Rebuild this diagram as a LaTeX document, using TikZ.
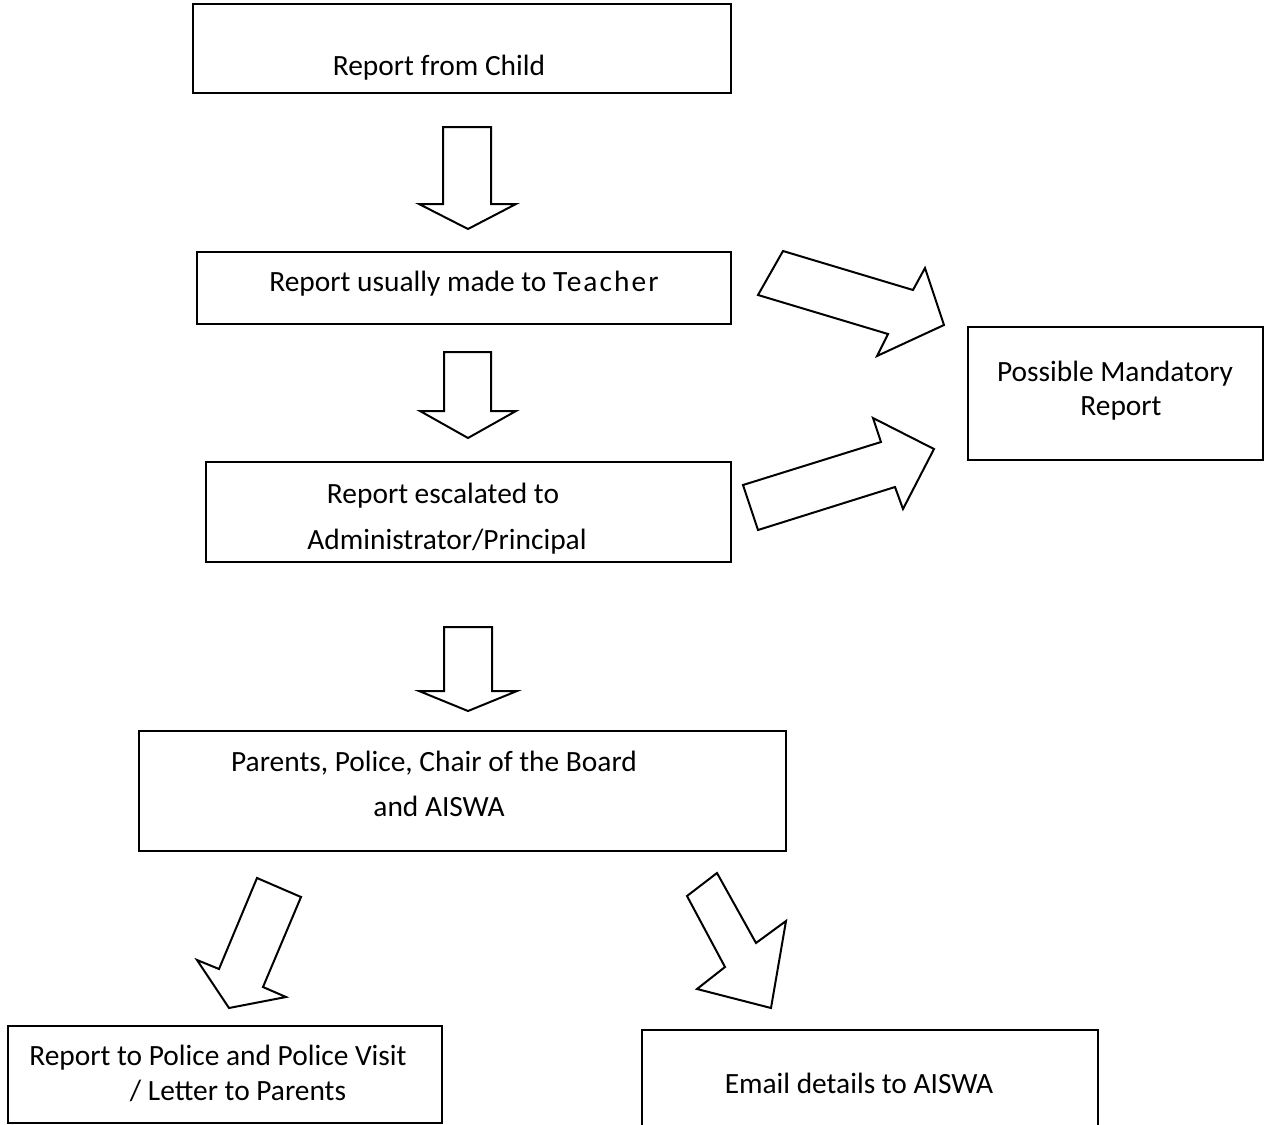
\documentclass[tikz,border=0pt]{standalone}
\usepackage{fontspec}
\setmainfont{Carlito}
\usetikzlibrary{fit}

\begin{document}
\begin{tikzpicture}[
    x=0.5pt, y=-0.5pt,
    box/.style={draw, line width=1pt, inner sep=0pt},
    txt/.style={anchor=base, inner sep=0pt, font=\fontsize{14.7}{18}\selectfont},
    bigarrow/.style={draw, line width=1pt, line join=miter, fill=white}
]
\clip (0,0) rectangle (1265,1125);

% boxes
\node[box, fit={(193,4) (731,93)}] (child) {};
\node[box, fit={(197,252) (731,324)}] (teacher) {};
\node[box, fit={(206,462) (731,562)}] (admin) {};
\node[box, fit={(968,327) (1263,460)}] (mandatory) {};
\node[box, fit={(139,731) (786,851)}] (parents) {};
\node[box, fit={(8,1026) (442,1123)}] (police) {};
\node[box, fit={(642,1030) (1098,1140)}] (email) {};

% texts
\node[txt] (child-t) at (439,75) {Report from Child};
\node[txt] (teacher-t) at (464,291) {Report usually made to {\addfontfeature{LetterSpace=7}Teacher}};
\node[txt] (admin-a) at (443,503) {Report escalated to};
\node[txt] (admin-b) at (447,549) {Administrator/Principal};
\node[txt] (mandatory-a) at (1115,381) {Possible Mandatory};
\node[txt] (mandatory-b) at (1121,415) {Report};
\node[txt] (parents-a) at (434,771) {Parents, Police, Chair of the Board};
\node[txt] (parents-b) at (439,816) {and AISWA};
\node[txt] (police-a) at (218,1065) {Report to Police and Police Visit};
\node[txt] (police-b) at (238,1100) {/ Letter to Parents};
\node[txt] (email-t) at (859,1093) {Email details to AISWA};

% block arrows down
\draw[bigarrow] (443,127) -- (491,127) -- (491,204) -- (516,204) -- (468,229) -- (419,204) -- (443,204) -- cycle;
\draw[bigarrow] (444,352) -- (491,352) -- (491,411) -- (516,411) -- (468,438) -- (420,411) -- (444,411) -- cycle;
\draw[bigarrow] (444,627) -- (492,627) -- (492,691) -- (517,691) -- (468,711) -- (419,691) -- (444,691) -- cycle;

% block arrows to mandatory report
\draw[bigarrow] (783,251) -- (913,290) -- (925,268) -- (944,325) -- (877,356) -- (888,334) -- (758,295) -- cycle;
\draw[bigarrow] (743,485) -- (881,442) -- (873,418) -- (934,449) -- (903,509) -- (895,487) -- (758,530) -- cycle;

% block arrows down to the last boxes
\draw[bigarrow] (257,878) -- (301,897) -- (263,987) -- (286,997) -- (229,1008) -- (197,960) -- (219,969) -- cycle;
\draw[bigarrow] (717,873) -- (756,943) -- (786,921) -- (771,1008) -- (697,989) -- (725,967) -- (687,896) -- cycle;
\end{tikzpicture}
\end{document}
